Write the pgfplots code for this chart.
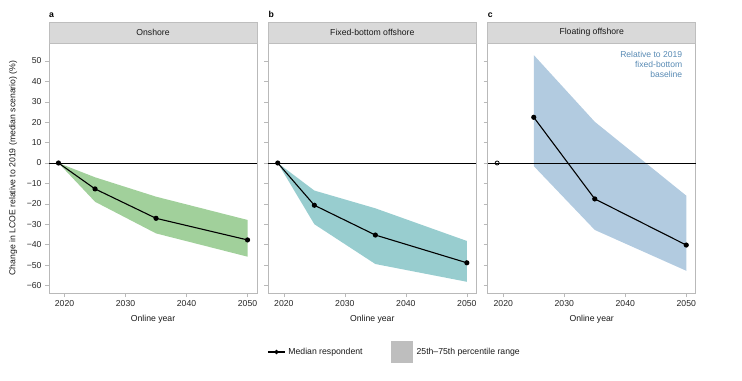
\documentclass[border=0pt]{standalone}
\usepackage{fontspec}
\setmainfont{Liberation Sans}
\usepackage{pgfplots}
\pgfplotsset{compat=1.18}
\definecolor{bandA}{RGB}{161,208,155}
\definecolor{bandB}{RGB}{152,205,207}
\definecolor{bandC}{RGB}{178,203,224}
\definecolor{stripfill}{RGB}{217,217,217}
\definecolor{stripdraw}{RGB}{190,190,190}
\definecolor{frame}{RGB}{185,185,185}
\definecolor{note}{RGB}{88,138,180}
\definecolor{legendgray}{RGB}{190,190,190}
\pgfplotsset{panel/.style={
  scale only axis, width=208bp, height=250bp,
  xmin=2017.45, xmax=2051.55, ymin=-63.7, ymax=58.8,
  axis line style={draw=frame, line width=0.5pt},
  tick align=outside, major tick length=4bp,
  tick style={draw=frame, line width=0.5pt},
  xtick={2020,2030,2040,2050}, ytick={-60,-50,...,50},
  xtick pos=bottom, ytick pos=left,
  /pgf/number format/assume math mode=true,
  /pgf/number format/1000 sep={},
  tick label style={font=\fontsize{8.7}{10}\selectfont, text=black!85},
  xlabel={Online year},
  xlabel style={at={(axis description cs:0.5,-0.104)}, anchor=center, font=\fontsize{8.7}{10}\selectfont, text=black!90},
  clip=false,
}}
\begin{document}
\begin{tikzpicture}
\path[use as bounding box] (0bp,0bp) rectangle (742bp,-381bp);
% ---------- a ----------
\begin{axis}[panel, at={(49bp,-293bp)}, anchor=south west,
  yticklabels={−60,−50,−40,−30,−20,−10,0,10,20,30,40,50},
  ylabel={Change in LCOE relative to 2019 (median scenario) (\%)},
  ylabel style={at={(axis description cs:-0.173,0.5)}, anchor=center, font=\fontsize{8.7}{10}\selectfont, text=black!90}]
\addplot[fill=bandA, draw=none] coordinates {(2019,0) (2025,-7) (2035,-16.5) (2050,-27.9) (2050,-45.9) (2035,-34.5) (2025,-19) (2019,0)} -- cycle;
\addplot[black, line width=0.6pt, no marks] coordinates {(2017.45,0) (2051.55,0)};
\addplot[black, line width=1.1pt, mark=*, mark size=2bp] coordinates {(2019,0) (2025,-12.7) (2035,-27.1) (2050,-37.7)};
\draw[draw=stripdraw, fill=stripfill, line width=0.5pt] (rel axis cs:0,1) rectangle (rel axis cs:1,1.084);
\node[font=\fontsize{8.7}{10}\selectfont, text=black!90] at (rel axis cs:0.5,1.042) {Onshore};
\node[anchor=base west, inner sep=0pt, font=\fontsize{8.7}{10}\selectfont\bfseries] at (rel axis cs:0,1.102) {a};
\end{axis}
% ---------- b ----------
\begin{axis}[panel, at={(268.3bp,-293bp)}, anchor=south west, yticklabels={,,},
  legend style={at={(axis description cs:-0.02,-0.236)}, anchor=west, draw=none, fill=none,
    legend columns=2, font=\fontsize{8.7}{10}\selectfont, text=black!90,
    /tikz/every even column/.append style={column sep=26bp},
    legend cell align=left}]
\addplot[fill=bandB, draw=none, forget plot] coordinates {(2019,0) (2025,-13.5) (2035,-22.2) (2050,-38.2) (2050,-58.2) (2035,-49.5) (2025,-30) (2019,0)} -- cycle;
\addplot[black, line width=0.6pt, no marks, forget plot] coordinates {(2017.45,0) (2051.55,0)};
\addplot[black, line width=1.1pt, mark=*, mark size=2bp, forget plot] coordinates {(2019,0) (2025,-20.7) (2035,-35.3) (2050,-48.9)};
\addlegendimage{black, line width=1.1pt, mark=*, mark size=1.6bp}
\addlegendentry{\hspace{1bp}Median respondent}
\addlegendimage{legend image code/.code={\path[fill=legendgray, draw=none] (0bp,-11bp) rectangle (22bp,11bp);}}
\addlegendentry{\hspace{2bp}25th–75th percentile range}
\draw[draw=stripdraw, fill=stripfill, line width=0.5pt] (rel axis cs:0,1) rectangle (rel axis cs:1,1.084);
\node[font=\fontsize{8.7}{10}\selectfont, text=black!90] at (rel axis cs:0.5,1.042) {Fixed-bottom offshore};
\node[anchor=base west, inner sep=0pt, font=\fontsize{8.7}{10}\selectfont\bfseries] at (rel axis cs:0,1.102) {b};
\end{axis}
% ---------- c ----------
\begin{axis}[panel, at={(487.7bp,-293bp)}, anchor=south west, yticklabels={,,}]
\addplot[fill=bandC, draw=none] coordinates {(2025,52.9) (2035,20.2) (2050,-16) (2050,-52.8) (2035,-32.8) (2025,-1.5)} -- cycle;
\addplot[black, line width=0.6pt, no marks] coordinates {(2017.45,0) (2051.55,0)};
\addplot[black, line width=0.8pt, only marks, mark=o, mark size=2bp] coordinates {(2019,0)};
\addplot[black, line width=1.1pt, mark=*, mark size=2bp] coordinates {(2025,22.4) (2035,-17.6) (2050,-40.2)};
\node[anchor=north east, align=right, inner sep=0pt, font=\fontsize{8.6}{10}\selectfont, text=note] at (axis description cs:0.936,0.968) {Relative to 2019\\fixed-bottom\\baseline};
\draw[draw=stripdraw, fill=stripfill, line width=0.5pt] (rel axis cs:0,1) rectangle (rel axis cs:1,1.084);
\node[font=\fontsize{8.7}{10}\selectfont, text=black!90] at (rel axis cs:0.5,1.042) {Floating offshore};
\node[anchor=base west, inner sep=0pt, font=\fontsize{8.7}{10}\selectfont\bfseries] at (rel axis cs:0,1.102) {c};
\end{axis}
\end{tikzpicture}
\end{document}
